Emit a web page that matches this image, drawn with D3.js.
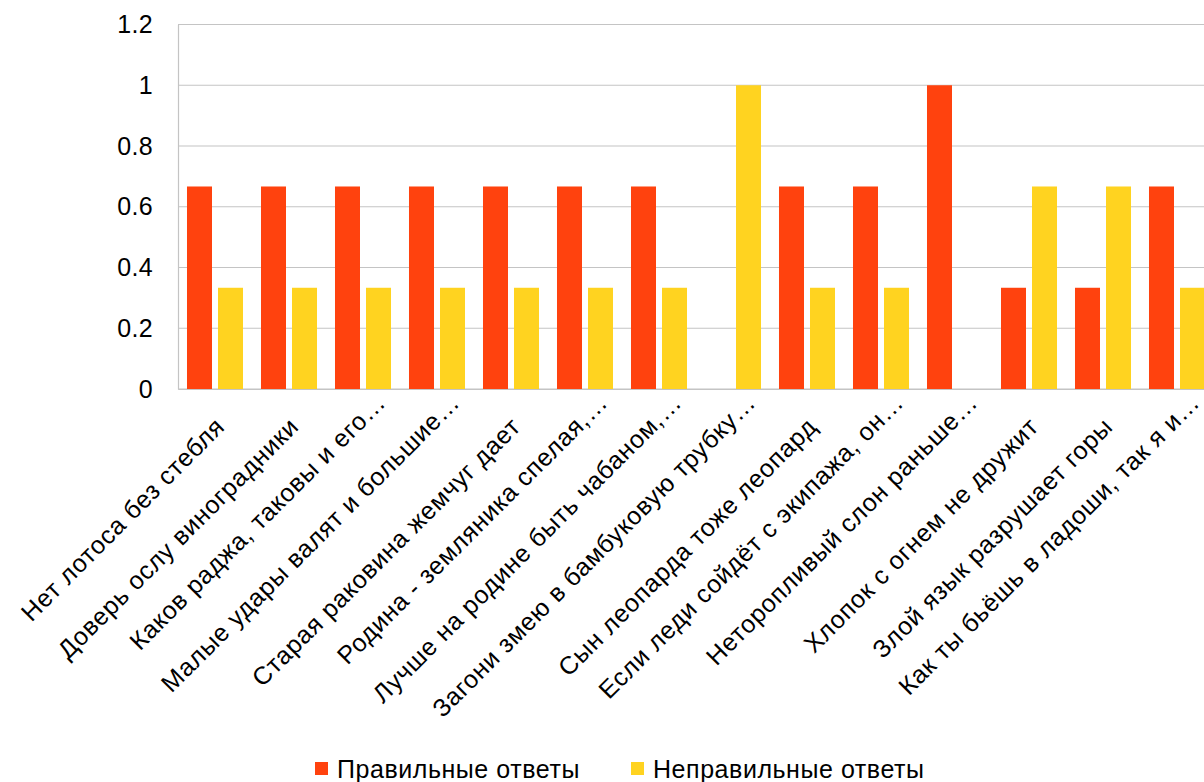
<!DOCTYPE html>
<html>
<head>
<meta charset="utf-8">
<script src="https://cdn.jsdelivr.net/npm/d3@7"></script>
<style>
  html, body { margin: 0; padding: 0; background: #fff; }
  svg { display: block; font-family: "Liberation Sans", Arial, sans-serif; }
</style>
</head>
<body>
<svg id="chart" width="1204" height="782"></svg>
<script>
const categories = [
  "Нет лотоса без стебля",
  "Доверь ослу виноградники",
  "Каков раджа, таковы и его…",
  "Малые удары валят и большие…",
  "Старая раковина жемчуг дает",
  "Родина - земляника спелая,…",
  "Лучше на родине быть чабаном,…",
  "Загони змею в бамбуковую трубку…",
  "Сын леопарда тоже леопард",
  "Если леди сойдёт с экипажа, он…",
  "Неторопливый слон раньше…",
  "Хлопок с огнем не дружит",
  "Злой язык разрушает горы",
  "Как ты бьёшь в ладоши, так я и…"
];
const correct   = [0.6667, 0.6667, 0.6667, 0.6667, 0.6667, 0.6667, 0.6667, 0, 0.6667, 0.6667, 1, 0.3333, 0.3333, 0.6667];
const incorrect = [0.3333, 0.3333, 0.3333, 0.3333, 0.3333, 0.3333, 0.3333, 1, 0.3333, 0.3333, 0, 0.6667, 0.6667, 0.3333];
const seriesNames = ["Правильные ответы", "Неправильные ответы"];
const seriesColors = ["#ff420e", "#ffd320"];
const yTicks = [0, 0.2, 0.4, 0.6, 0.8, 1, 1.2];
const yTickLabels = ["0", "0.2", "0.4", "0.6", "0.8", "1", "1.2"];

(function () {
const svg = d3.select("#chart");
const pLeft = 178, pRight = 178 + 74 * categories.length, pTop = 24.5, pBottom = 389;
const FONT = "Liberation Sans, Arial, sans-serif";

const x0 = d3.scaleBand().domain(categories).range([pLeft, pRight]).padding(0);
const x1 = d3.scaleBand().domain([0, 1]).range([0, x0.bandwidth()])
  .paddingInner(0.1935).paddingOuter(0.29);
const y = d3.scaleLinear().domain([0, 1.2]).range([pBottom, pTop]);

// gridlines
svg.append("g").selectAll("line").data(yTicks).join("line")
  .attr("x1", pLeft).attr("x2", 1204)
  .attr("y1", d => y(d)).attr("y2", d => y(d))
  .attr("stroke", "#c4c4c4").attr("stroke-width", 1.2);

// y axis
const yAxis = d3.axisLeft(y).tickValues(yTicks).tickSize(0).tickPadding(25)
  .tickFormat((d, i) => yTickLabels[i]);
const gy = svg.append("g").attr("transform", `translate(${pLeft},0)`).call(yAxis);
gy.select(".domain").attr("stroke", "#c4c4c4").attr("stroke-width", 1.2);
gy.selectAll("text").attr("font-size", 25).attr("fill", "#000")
  .attr("font-family", FONT).attr("letter-spacing", "0.3px");

// bars
const rows = categories.map((c, i) => ({ c, vals: [correct[i], incorrect[i]] }));
const groups = svg.append("g").selectAll("g").data(rows).join("g")
  .attr("transform", d => `translate(${x0(d.c)},0)`);
groups.selectAll("rect").data(d => d.vals.map((v, k) => ({ v, k }))).join("rect")
  .attr("x", d => x1(d.k)).attr("width", x1.bandwidth())
  .attr("y", d => y(d.v)).attr("height", d => y(0) - y(d.v))
  .attr("fill", d => seriesColors[d.k]);

// x axis
const xAxis = d3.axisBottom(x0).tickSize(0).tickPadding(0);
const gx = svg.append("g").attr("transform", `translate(0,${pBottom})`).call(xAxis);
gx.select(".domain").attr("stroke", "#c4c4c4").attr("stroke-width", 1.2);
gx.selectAll("text")
  .attr("font-size", 25).attr("fill", "#000")
  .attr("font-family", FONT)
  .attr("letter-spacing", "0.7px")
  .attr("text-anchor", "end")
  .attr("dy", "0.35em")
  .attr("y", 0)
  .attr("transform", d => d.endsWith("…")
    ? "translate(18,9) rotate(-45)"
    : "translate(5,33) rotate(-45)");

// legend
const legend = svg.append("g");
const legX = [315, 631];
seriesNames.forEach((name, i) => {
  legend.append("rect").attr("x", legX[i]).attr("y", 762).attr("width", 13).attr("height", 13)
    .attr("fill", seriesColors[i]);
  legend.append("text").attr("x", legX[i] + 22).attr("y", 778)
    .attr("font-size", 25).attr("letter-spacing", "0.55px")
    .attr("font-family", FONT).attr("fill", "#000").text(name);
});
})();
</script>
</body>
</html>
